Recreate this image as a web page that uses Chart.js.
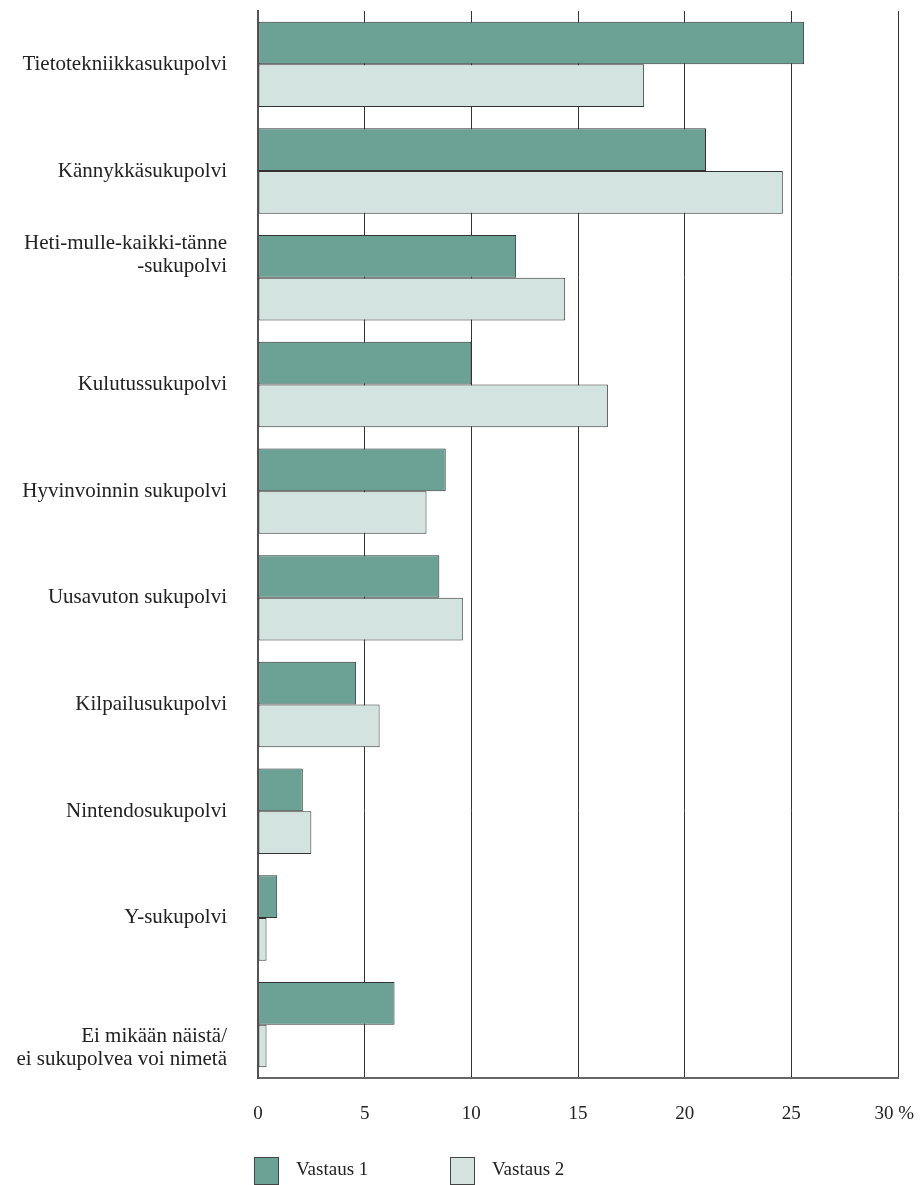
<!DOCTYPE html>
<html>
<head>
<meta charset="utf-8">
<script src="https://cdn.jsdelivr.net/npm/chart.js@4/dist/chart.umd.min.js"></script>
<style>
  body { margin: 0; background: #fff; }
  #wrap { position: relative; width: 920px; height: 1185px; overflow: hidden; }
  #chart { position: absolute; left: 0; top: 0; }
  .legend_item { position: absolute; top: 1157px; height: 28px; font: 19px "Liberation Serif", serif; color: #222; }
  .legend_box { position: absolute; left: 0; top: 0; width: 25px; height: 28px; border: 1px solid #444; box-sizing: border-box; }
  .legend_text { position: absolute; left: 42px; top: 1px; white-space: nowrap; }
</style>
</head>
<body>
<div id="wrap">
  <canvas id="chart" width="920" height="1185"></canvas>
</div>
<script>
// the empty lines only nudge the two-line labels up / down like in the print
var categorias = [
  "Tietotekniikkasukupolvi",
  "Kännykkäsukupolvi",
  ["Heti-mulle-kaikki-tänne", "-sukupolvi", "", ""],
  "Kulutussukupolvi",
  "Hyvinvoinnin sukupolvi",
  "Uusavuton sukupolvi",
  "Kilpailusukupolvi",
  "Nintendosukupolvi",
  "Y-sukupolvi",
  ["", "", "Ei mikään näistä/", "ei sukupolvea voi nimetä"]
]
var vastaus1 = [25.6, 21.0, 12.1, 10.0, 8.8, 8.5, 4.6, 2.1, 0.9, 6.4]
var vastaus2 = [18.1, 24.6, 14.4, 16.4, 7.9, 9.6, 5.7, 2.5, 0.4, 0.4]
var tickValues = [0, 5, 10, 15, 20, 25, 30]
var tickLabels = ["0", "5", "10", "15", "20", "25", "30 %"]
var seriesNames = ["Vastaus 1", "Vastaus 2"]
var cores = ["#6ca295", "#d3e3df"]

const fonte = '"Liberation Serif", serif'

// x tick labels drawn by hand so the "30 %" can hang left like in the print
const xLabels = {
  id: "xLabels",
  afterDraw(chart) {
    const ctx = chart.ctx
    const x = chart.scales.x
    ctx.save()
    ctx.font = '19px "Liberation Serif"'
    ctx.fillStyle = "#222"
    ctx.textBaseline = "middle"
    for (var i = 0; i < tickValues.length; i++) {
      var px = x.getPixelForValue(tickValues[i])
      if (i == tickValues.length - 1) {
        ctx.textAlign = "right"
        px = px + 16
      } else {
        ctx.textAlign = "center"
      }
      ctx.fillText(tickLabels[i], px, 1114)
    }
    ctx.restore()
  }
}

new Chart(document.getElementById("chart"), {
  type: "bar",
  data: {
    labels: categorias,
    datasets: [{
      label: seriesNames[0],
      data: vastaus1,
      backgroundColor: cores[0],
      borderColor: "#333",
      borderWidth: 1,
      borderSkipped: false
    }, {
      label: seriesNames[1],
      data: vastaus2,
      backgroundColor: cores[1],
      borderColor: "#333",
      borderWidth: 1,
      borderSkipped: false
    }]
  },
  options: {
    indexAxis: "y",
    responsive: false,
    animation: false,
    layout: { padding: { top: 11, right: 22, bottom: 107, left: 0 } },
    datasets: { bar: { categoryPercentage: 0.8, barPercentage: 1.0 } },
    scales: {
      x: {
        min: 0,
        max: 30,
        ticks: { display: false, stepSize: 5 },
        grid: { color: "#333", lineWidth: 1, drawTicks: false },
        border: { color: "#666", width: 2 },
        afterFit: (s) => { s.height = 0; s.paddingLeft = 0; s.paddingRight = 0 }
      },
      y: {
        grid: { display: false, drawTicks: false },
        border: { color: "#555", width: 2 },
        ticks: {
          color: "#222",
          padding: 31,
          font: { family: fonte, size: 21, lineHeight: 1.1 }
        },
        afterFit: (s) => { s.width = 258; s.paddingTop = 0; s.paddingBottom = 0 }
      }
    },
    plugins: {
      legend: { display: false },
      tooltip: { enabled: false }
    }
  },
  plugins: [xLabels]
})

// legenda em html
var wrap = document.getElementById("wrap")
var legendX = [254, 450]
seriesNames.forEach((nome, i) => {
  var item = document.createElement("div")
  item.className = "legend_item"
  item.style.left = legendX[i] + "px"
  item.innerHTML = `<div class="legend_box" style="background:${cores[i]}"></div><span class="legend_text">${nome}</span>`
  wrap.appendChild(item)
})
</script>
</body>
</html>
